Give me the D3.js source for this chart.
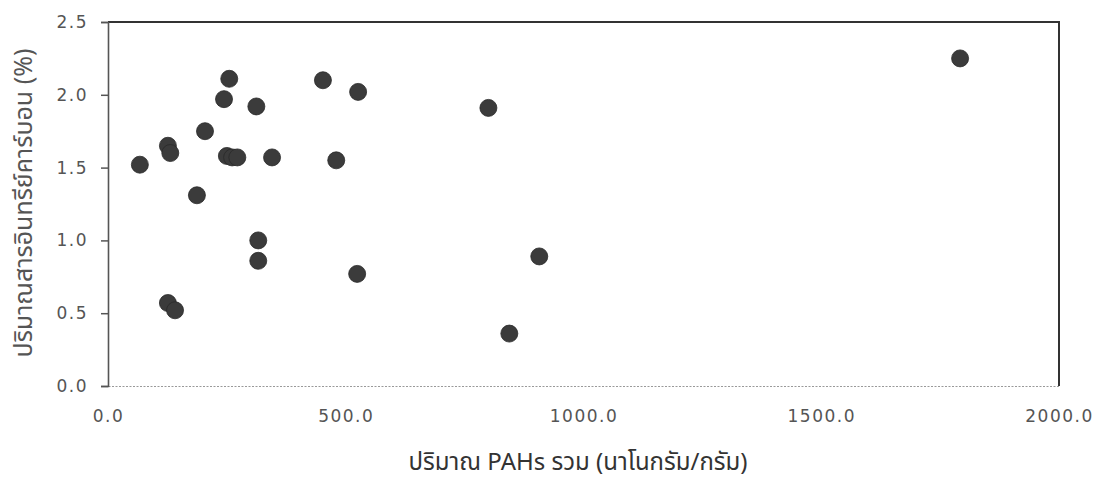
<!DOCTYPE html>
<html>
<head>
<meta charset="utf-8">
<script src="https://cdn.jsdelivr.net/npm/d3@7"></script>
<style>
  body { margin: 0; background: #fff; }
  svg { display: block; }
</style>
</head>
<body>
<div id="chart"></div>
<script>
// PAHs total (ng/g) vs organic carbon (%)
const pahs = [67, 126, 131, 126, 141, 187, 204, 244, 255, 312, 250, 261, 272, 345,
  316, 316, 452, 526, 480, 524, 800, 907, 844, 1792];
const carbon = [1.52, 1.65, 1.60, 0.57, 0.52, 1.31, 1.75, 1.97, 2.11, 1.92, 1.58, 1.57, 1.57, 1.57,
  1.00, 0.86, 2.10, 2.02, 1.55, 0.77, 1.91, 0.89, 0.36, 2.25];
const xTicks = [0, 500, 1000, 1500, 2000];
const yTicks = [0, 0.5, 1.0, 1.5, 2.0, 2.5];
const xTitle = 'ปริมาณ PAHs รวม (นาโนกรัม/กรัม)';
const yTitle = 'ปริมาณสารอินทรีย์คาร์บอน (%)';

const W = 1099, H = 490;
const margin = { top: 22, right: 40, bottom: 104, left: 108 };
const width = W - margin.left - margin.right;
const height = H - margin.top - margin.bottom;

const svg = d3.select('#chart')
  .append('svg')
  .attr('width', W)
  .attr('height', H);

const g = svg.append('g')
  .attr('transform', 'translate(' + margin.left + ',' + margin.top + ')');

const x = d3.scaleLinear().domain([0, 2000]).range([0, width]);
const y = d3.scaleLinear().domain([0, 2.5]).range([height, 0]);

// top and right frame
g.append('path')
  .attr('d', `M0,0H${width}V${height}`)
  .attr('fill', 'none')
  .attr('stroke', '#333')
  .attr('stroke-width', 2);

// bottom axis: faint dotted line, no ticks
const xAxis = g.append('g')
  .attr('transform', 'translate(0,' + height + ')')
  .call(d3.axisBottom(x).tickValues(xTicks).tickSize(0).tickPadding(24).tickFormat(d3.format('.1f')));
xAxis.select('.domain')
  .attr('stroke', '#999')
  .attr('stroke-width', 1.2)
  .attr('stroke-dasharray', '2,1.5');
xAxis.selectAll('text')
  .attr('font-family', 'DejaVu Sans, sans-serif')
  .attr('font-size', 17)
  .attr('letter-spacing', 1.5)
  .attr('fill', '#555');

// left axis
const yAxis = g.append('g')
  .call(d3.axisLeft(y).tickValues(yTicks).tickSize(7).tickPadding(13).tickSizeOuter(7).tickFormat(d3.format('.1f')));
yAxis.select('.domain')
  .attr('stroke', '#555')
  .attr('stroke-width', 1.6);
yAxis.selectAll('.tick line')
  .attr('stroke', '#555')
  .attr('stroke-width', 1.5);
yAxis.selectAll('text')
  .attr('font-family', 'DejaVu Sans, sans-serif')
  .attr('font-size', 17)
  .attr('letter-spacing', 1.5)
  .attr('fill', '#555');

// points
g.selectAll('.dot')
  .data(pahs.map((p, i) => ({ p, c: carbon[i] })))
  .enter().append('circle')
  .attr('class', 'dot')
  .attr('cx', d => x(d.p))
  .attr('cy', d => y(d.c))
  .attr('r', 8.5)
  .attr('fill', '#3b3b3b')
  .attr('stroke', '#2a2a2a')
  .attr('stroke-width', 0.8);

// axis titles
svg.append('text')
  .attr('x', 578)
  .attr('y', 470)
  .attr('text-anchor', 'middle')
  .attr('font-family', 'Noto Sans Thai, Noto Sans, sans-serif')
  .attr('font-size', 24)
  .attr('fill', '#333')
  .text(xTitle);

svg.append('text')
  .attr('transform', 'translate(32,203) rotate(-90)')
  .attr('text-anchor', 'middle')
  .attr('font-family', 'Noto Sans Thai, Noto Sans, sans-serif')
  .attr('font-size', 25)
  .attr('fill', '#555')
  .text(yTitle);
</script>
</body>
</html>
